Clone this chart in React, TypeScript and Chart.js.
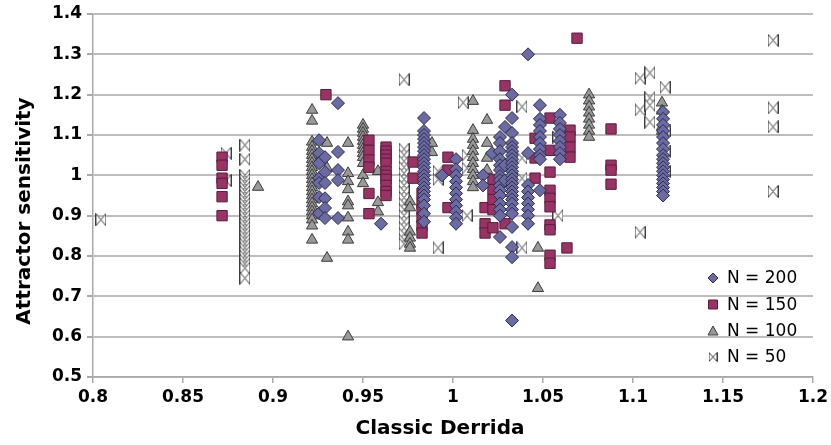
import { useEffect, useRef } from 'react';
import { Chart, registerables } from 'chart.js';

Chart.register(...registerables);

// ---- Data ----
// Each series: column x positions and, per column, the y values at that x.
const n200X = [0.9256, 0.9289, 0.9361, 0.96, 0.9839, 0.9939, 1.0017, 1.0167, 1.0217, 1.0261, 1.0289, 1.0328, 1.0417, 1.0483, 1.0594, 1.1167];
const n200Y = [
  [1.087, 1.055, 1.03, 0.993, 0.981, 0.946, 0.906],
  [1.045, 1.008, 0.981, 0.943, 0.919, 0.894],
  [1.179, 1.058, 1.013, 0.988, 0.894],
  [0.88],
  [1.142, 1.11, 1.1, 1.09, 1.08, 1.07, 1.06, 1.05, 1.04, 1.03, 1.02, 1.01, 1.0, 0.99, 0.98, 0.97, 0.96, 0.95, 0.94, 0.925, 0.905, 0.885],
  [1.0],
  [1.04, 1.015, 1.0, 0.985, 0.97, 0.955, 0.94, 0.925, 0.91, 0.895, 0.88],
  [1.0, 0.975],
  [1.055],
  [1.095, 1.08, 1.06, 1.04, 1.025, 1.013, 0.998, 0.988, 0.975, 0.963, 0.95, 0.93, 0.915, 0.9, 0.847],
  [1.12, 1.025, 0.988],
  [1.2, 1.142, 1.105, 1.08, 1.07, 1.06, 1.05, 1.04, 1.03, 1.02, 1.01, 1.0, 0.99, 0.98, 0.97, 0.96, 0.95, 0.94, 0.93, 0.915, 0.905, 0.872, 0.822, 0.797, 0.64],
  [1.3, 1.055, 0.976, 0.96, 0.945, 0.93, 0.915, 0.9, 0.88],
  [1.174, 1.14, 1.125, 1.11, 1.095, 1.08, 1.065, 1.05, 1.04, 0.963],
  [1.15, 1.13, 1.115, 1.1, 1.085, 1.07, 1.055, 1.04],
  [1.157, 1.14, 1.125, 1.11, 1.095, 1.08, 1.065, 1.05, 1.04, 1.03, 1.02, 1.01, 1.0, 0.99, 0.98, 0.97, 0.96, 0.95],
];

const n150X = [0.8717, 0.9294, 0.9533, 0.9628, 0.9778, 0.9828, 0.9972, 1.0178, 1.0222, 1.0289, 1.0456, 1.0539, 1.065, 1.0633, 1.0689, 1.0878];
const n150Y = [
  [1.045, 1.025, 0.993, 0.98, 0.947, 0.9],
  [1.2],
  [1.087, 1.062, 1.038, 1.02, 0.955, 0.905],
  [1.07, 1.06, 1.05, 1.04, 1.03, 1.01, 1.0, 0.99, 0.975, 0.96, 0.95],
  [1.033, 0.993],
  [0.955, 0.93, 0.915, 0.895, 0.875, 0.857],
  [1.045, 1.013, 0.92],
  [0.92, 0.88, 0.857],
  [0.99, 0.965, 0.94, 0.915, 0.87],
  [1.222, 1.174, 0.88],
  [1.092, 1.043, 0.993],
  [1.142, 1.062, 1.008, 0.963, 0.943, 0.922, 0.877, 0.865, 0.802, 0.782],
  [1.112, 1.095, 1.07, 1.045],
  [0.82],
  [1.34],
  [1.115, 1.025, 1.013, 0.978],
];

const n100X = [0.8917, 0.9217, 0.93, 0.9417, 0.95, 0.9583, 0.9761, 0.9883, 1.0111, 1.0189, 1.0472, 1.0756, 1.1161];
const n100Y = [
  [0.971],
  [1.162, 1.135, 1.083, 1.07, 1.06, 1.05, 1.04, 1.03, 1.02, 1.01, 1.0, 0.99, 0.98, 0.97, 0.96, 0.95, 0.94, 0.93, 0.92, 0.91, 0.9, 0.89, 0.875, 0.84],
  [1.08, 1.018, 0.795],
  [1.08, 1.005, 0.985, 0.965, 0.935, 0.925, 0.895, 0.86, 0.84, 0.6],
  [1.125, 1.115, 1.105, 1.095, 1.085, 1.075, 1.065, 1.055, 1.045, 1.03, 1.0, 0.98],
  [1.01, 0.933, 0.91],
  [0.935, 0.92, 0.86, 0.845, 0.83, 0.82],
  [1.08, 1.057],
  [1.184, 1.112, 1.09, 1.075, 1.06, 1.045, 1.03, 1.015, 1.0, 0.985, 0.97],
  [1.137, 1.08, 1.043, 1.013],
  [0.82, 0.72],
  [1.2, 1.185, 1.17, 1.155, 1.14, 1.125, 1.11, 1.095],
  [1.18, 1.16, 1.12, 1.11],
];

const n50X = [0.8044, 0.8739, 0.8844, 0.9728, 0.9917, 1.0056, 1.0078, 1.0383, 1.0583, 1.1039, 1.1094, 1.1178, 1.1778];
const n50Y = [
  [0.89],
  [1.055, 0.987],
  [1.075, 1.04, 1.0, 0.99, 0.98, 0.97, 0.96, 0.95, 0.94, 0.93, 0.92, 0.91, 0.9, 0.89, 0.88, 0.87, 0.86, 0.85, 0.84, 0.83, 0.82, 0.81, 0.8, 0.79, 0.78, 0.77, 0.745],
  [1.237, 1.065, 1.05, 1.035, 1.02, 1.005, 0.99, 0.975, 0.96, 0.945, 0.93, 0.915, 0.9, 0.885, 0.87, 0.855, 0.84, 0.83],
  [1.01, 0.99, 0.82],
  [1.18],
  [1.05, 1.018, 0.9],
  [1.17, 1.043, 0.993, 0.82],
  [1.095, 0.9],
  [1.241, 1.162, 0.859],
  [1.254, 1.192, 1.174, 1.132],
  [1.219, 1.11, 1.06, 1.01],
  [1.335, 1.167, 1.12, 0.96],
];

const seriesLabels = ['N = 200', 'N = 150', 'N = 100', 'N = 50'];
const xTitle = 'Classic Derrida';
const yTitle = 'Attractor sensitivity';

const DIAMOND_FILL = '#6a6aa4';
const DIAMOND_LINE = '#2b2b45';
const SQUARE_FILL = '#993366';
const SQUARE_LINE = '#5a1d3b';
const TRI_FILL = '#999999';
const TRI_LINE = '#3c3c3c';
const BOW_LINE = '#3c3c3c';

function toPoints(xs: number[], ys: number[][]) {
  return xs.flatMap((x, i) => ys[i].map((y) => ({ x, y })));
}

function makeBowtie(w: number, h: number) {
  const c = document.createElement('canvas');
  c.width = w;
  c.height = h;
  const g = c.getContext('2d')!;
  g.fillStyle = '#ffffff';
  g.strokeStyle = BOW_LINE;
  g.lineWidth = 1;
  const cx = w / 2;
  const cy = h / 2;
  g.beginPath();
  g.moveTo(0.5, 0.5);
  g.lineTo(0.5, h - 0.5);
  g.lineTo(cx, cy);
  g.closePath();
  g.moveTo(w - 0.5, 0.5);
  g.lineTo(w - 0.5, h - 0.5);
  g.lineTo(cx, cy);
  g.closePath();
  g.fill();
  g.stroke();
  return c;
}

export default function App() {
  const ref = useRef<HTMLCanvasElement | null>(null);

  useEffect(() => {
    if (!ref.current) return;
    const bow = makeBowtie(11, 13);
    const bowSmall = makeBowtie(9, 10);

    const overlay = {
      id: 'overlay',
      afterDraw(chart: any) {
        const ctx = chart.ctx as CanvasRenderingContext2D;
        ctx.save();
        ctx.fillStyle = '#000';
        ctx.font = 'bold 20px "DejaVu Sans"';
        ctx.textAlign = 'center';
        ctx.textBaseline = 'middle';
        ctx.fillText(xTitle, 440, 429);
        ctx.save();
        ctx.translate(25, 211);
        ctx.rotate(-Math.PI / 2);
        ctx.fillText(yTitle, 0, 0);
        ctx.restore();

        // legend
        const mx = 713;
        const tx = 727;
        const ys = [278, 304.5, 331, 357];
        ctx.font = '17px "DejaVu Sans"';
        ctx.textAlign = 'left';
        ctx.lineWidth = 1;
        // diamond
        ctx.beginPath();
        ctx.moveTo(mx, ys[0] - 5);
        ctx.lineTo(mx + 5, ys[0]);
        ctx.lineTo(mx, ys[0] + 5);
        ctx.lineTo(mx - 5, ys[0]);
        ctx.closePath();
        ctx.fillStyle = DIAMOND_FILL;
        ctx.strokeStyle = DIAMOND_LINE;
        ctx.fill();
        ctx.stroke();
        // square
        ctx.beginPath();
        ctx.rect(mx - 4.5, ys[1] - 4.5, 9, 9);
        ctx.fillStyle = SQUARE_FILL;
        ctx.strokeStyle = SQUARE_LINE;
        ctx.fill();
        ctx.stroke();
        // triangle
        ctx.beginPath();
        ctx.moveTo(mx, ys[2] - 5);
        ctx.lineTo(mx + 5, ys[2] + 4);
        ctx.lineTo(mx - 5, ys[2] + 4);
        ctx.closePath();
        ctx.fillStyle = TRI_FILL;
        ctx.strokeStyle = TRI_LINE;
        ctx.fill();
        ctx.stroke();
        // bowtie
        ctx.drawImage(bowSmall, mx - 4.5, ys[3] - 5);

        ctx.fillStyle = '#000';
        seriesLabels.forEach((t, i) => ctx.fillText(t, tx, ys[i] + 1));
        ctx.restore();
      },
    };

    const tickFont = { family: '"DejaVu Sans"', size: 17, weight: 'bold' as const };

    const chart = new Chart(ref.current, {
      type: 'scatter',
      data: {
        datasets: [
          {
            label: seriesLabels[0],
            data: toPoints(n200X, n200Y),
            pointStyle: 'rectRot',
            pointRadius: 6.5,
            backgroundColor: DIAMOND_FILL,
            borderColor: DIAMOND_LINE,
            borderWidth: 1,
          },
          {
            label: seriesLabels[1],
            data: toPoints(n150X, n150Y),
            pointStyle: 'rect',
            pointRadius: 7.3,
            backgroundColor: SQUARE_FILL,
            borderColor: SQUARE_LINE,
            borderWidth: 1,
          },
          {
            label: seriesLabels[2],
            data: toPoints(n100X, n100Y),
            pointStyle: 'triangle',
            pointRadius: 6.5,
            backgroundColor: TRI_FILL,
            borderColor: TRI_LINE,
            borderWidth: 1,
          },
          {
            label: seriesLabels[3],
            data: toPoints(n50X, n50Y),
            pointStyle: bow,
            pointRadius: 6,
            backgroundColor: '#fff',
            borderColor: BOW_LINE,
            borderWidth: 1,
          },
        ],
      },
      options: {
        animation: false,
        responsive: true,
        maintainAspectRatio: false,
        events: [],
        layout: { padding: { left: 0, right: 18, top: 14, bottom: 0 } },
        plugins: {
          legend: { display: false },
          tooltip: { enabled: false },
          title: { display: false },
        },
        scales: {
          x: {
            type: 'linear',
            min: 0.8,
            max: 1.2,
            ticks: {
              stepSize: 0.05,
              color: '#000',
              font: tickFont,
              padding: 4,
              maxRotation: 0,
              autoSkip: false,
              callback: (v: any) => String(Math.round(Number(v) * 100) / 100),
            },
            grid: {
              drawOnChartArea: false,
              drawTicks: true,
              tickLength: 6,
              color: '#a9a9a9',
              lineWidth: 1.5,
            },
            border: { display: true, color: '#a9a9a9', width: 1.5 },
            afterFit: (s: any) => {
              s.height = 68;
              s.paddingLeft = 0;
              s.paddingRight = 0;
            },
          },
          y: {
            type: 'linear',
            min: 0.5,
            max: 1.4,
            ticks: {
              stepSize: 0.1,
              color: '#000',
              font: tickFont,
              padding: 5,
              autoSkip: false,
              callback: (v: any) => String(Math.round(Number(v) * 10) / 10),
            },
            grid: {
              drawOnChartArea: true,
              drawTicks: true,
              tickLength: 6,
              color: '#bdbdbd',
              tickColor: '#a9a9a9',
              lineWidth: 2,
            },
            border: { display: true, color: '#a9a9a9', width: 1.5 },
            afterFit: (s: any) => {
              s.width = 93;
              s.paddingTop = 0;
              s.paddingBottom = 0;
            },
          },
        },
      },
      plugins: [overlay],
    } as any);

    return () => chart.destroy();
  }, []);

  return (
    <div style={{ position: 'absolute', left: 0, top: 0, width: 831, height: 445, background: '#fff' }}>
      <canvas ref={ref} />
    </div>
  );
}
